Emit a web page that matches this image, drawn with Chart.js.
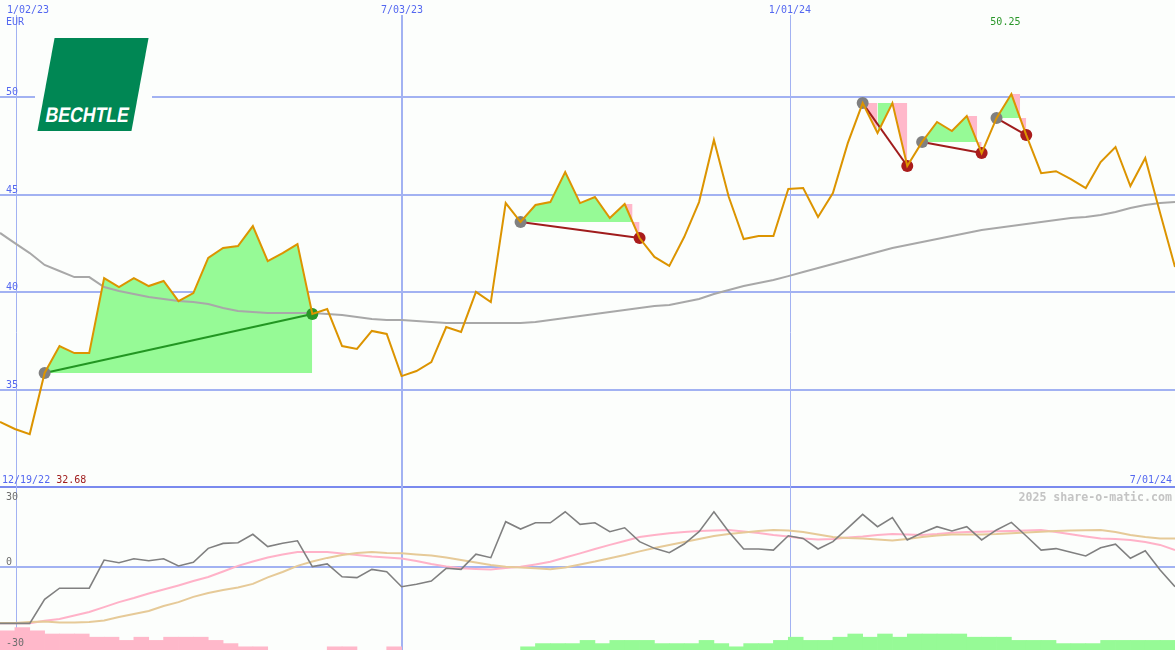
<!DOCTYPE html>
<html>
<head>
<meta charset="utf-8">
<script src="https://cdn.jsdelivr.net/npm/chart.js@4.4.1/dist/chart.umd.min.js"></script>
<style>
html,body{margin:0;padding:0;background:#fcfefc;}
#wrap{position:relative;width:1175px;height:650px;overflow:hidden;background:#fcfefc;}
#c{position:absolute;left:0;top:0;}
#logoBox{position:absolute;left:35px;top:32px;width:117px;height:104px;background:#fcfefc;}
#logo{position:absolute;left:11.25px;top:6px;width:94px;height:93px;background:#008754;transform:skewX(-10.4deg);}
#logo span{position:absolute;left:-10px;width:114px;top:66px;height:21px;line-height:21px;text-align:center;
  font-family:"Liberation Sans",Arial,sans-serif;font-weight:bold;font-size:21px;color:#ffffff;
  transform:scaleX(0.84);transform-origin:57px 10px;}
</style>
</head>
<body>
<div id="wrap">
<canvas id="c" width="1175" height="650"></canvas>
<div id="logoBox"><div id="logo"><span>BECHTLE</span></div></div>
</div>
<script>
// ---- data (weekly points) ----
const price = [33.36,33.00,32.74,35.87,37.25,36.89,36.89,40.73,40.27,40.73,
 40.32,40.58,39.55,39.96,41.76,42.27,42.37,43.39,41.60,42.01,
 42.47,38.89,39.14,37.25,37.10,38.02,37.87,35.71,35.97,36.43,
 38.22,37.97,40.02,39.50,44.57,43.60,44.47,44.62,46.16,44.57,
 44.88,43.80,44.52,42.78,41.81,41.35,42.83,44.62,47.80,44.88,
 42.73,42.88,42.88,45.29,45.34,43.86,45.08,47.64,49.69,48.16,
 49.69,46.47,47.70,48.72,48.26,49.03,47.13,48.92,50.15,48.05,
 46.10,46.20,45.80,45.34,46.67,47.44,45.44,46.88,44.06,41.30];
const movingAvg = [43.04,42.52,42.01,41.40,41.09,40.78,40.78,40.27,40.07,39.91,
 39.76,39.66,39.55,39.50,39.40,39.20,39.04,38.99,38.94,38.94,
 38.94,38.94,38.89,38.84,38.74,38.63,38.58,38.58,38.53,38.48,
 38.43,38.43,38.43,38.43,38.43,38.43,38.48,38.58,38.68,38.79,
 38.89,38.99,39.09,39.20,39.30,39.35,39.50,39.66,39.91,40.12,
 40.32,40.48,40.63,40.83,41.04,41.24,41.45,41.65,41.86,42.06,
 42.27,42.42,42.58,42.73,42.88,43.04,43.19,43.29,43.39,43.50,
 43.60,43.70,43.80,43.86,43.96,44.11,44.32,44.47,44.57,44.62];
const oscGray = [-26.0,-26.0,-26.0,-14.9,-9.8,-9.8,-9.8,3.2,2.0,3.8,
 2.9,3.8,0.5,2.2,8.6,10.9,11.2,15.1,9.4,11.0,
 12.1,0.2,1.4,-4.5,-4.9,-1.1,-2.2,-9.1,-8.0,-6.5,
 -0.6,-1.1,5.9,4.3,20.9,17.5,20.4,20.4,25.5,19.7,
 20.4,16.3,18.1,11.7,8.6,6.6,10.6,16.3,25.5,16.3,
 8.3,8.3,7.8,14.4,13.2,8.3,11.7,17.9,24.3,18.6,
 22.8,12.5,15.8,18.6,16.6,18.6,12.5,17.1,20.6,14.3,
 7.8,8.5,6.8,5.1,8.9,10.5,4.0,7.5,-1.4,-9.1];
const oscPink = [-26.0,-26.0,-26.0,-24.8,-24.0,-22.4,-20.8,-18.5,-16.2,-14.3,
 -12.2,-10.4,-8.5,-6.5,-4.6,-2.1,0.5,2.5,4.4,5.8,
 6.9,6.9,6.9,6.2,5.5,4.8,4.4,3.9,2.8,1.4,
 0.2,-0.6,-0.9,-1.1,-0.5,0.1,1.2,2.4,4.4,6.3,
 8.3,10.2,12.0,13.8,14.8,15.6,16.2,16.6,16.8,17.1,
 16.4,15.7,14.8,14.1,13.2,12.7,12.9,13.6,14.1,14.8,
 15.2,15.0,14.8,15.2,15.8,16.2,16.3,16.5,16.6,16.8,
 17.1,16.2,15.1,14.1,13.2,12.9,12.5,11.5,10.2,7.8];
const oscTan = [-25.8,-25.8,-25.4,-25.1,-25.6,-25.6,-25.4,-24.7,-23.1,-21.7,
 -20.3,-18.0,-16.2,-13.8,-12.0,-10.6,-9.5,-7.8,-4.8,-2.3,
 0.5,2.5,4.2,5.5,6.5,6.9,6.5,6.3,5.8,5.3,
 4.4,3.2,2.1,0.9,0.1,-0.2,-0.6,-1.0,-0.2,1.2,
 2.5,4.0,5.5,7.2,8.8,10.2,11.5,12.9,14.3,15.2,
 15.9,16.6,17.1,16.8,16.2,15.0,13.8,13.4,13.2,12.7,
 12.2,12.9,13.8,14.5,15.0,15.0,15.0,15.2,15.6,15.9,
 16.3,16.6,16.8,17.0,17.1,16.2,14.8,13.8,13.2,13.2];
const histPink = [6,7,6,5,5,5,4,4,3,4, 3,4,4,4,3,2,1,1,0,0, 0,0,1,1,0,0,1,0,0,0,
 0,0,0,0,0,0,0,0,0,0, 0,0,0,0,0,0,0,0,0,0, 0,0,0,0,0,0,0,0,0,0,
 0,0,0,0,0,0,0,0,0,0, 0,0,0,0,0,0,0,0,0];
const histGreen = [0,0,0,0,0,0,0,0,0,0, 0,0,0,0,0,0,0,0,0,0, 0,0,0,0,0,0,0,0,0,0,
 0,0,0,0,0,1,2,2,2,3, 2,3,3,3,2,2,2,3,2,1, 2,2,3,4,3,3,4,5,4,5,
 4,5,5,5,5,4,4,4,3,3, 3,2,2,2,3,3,3,3,3];
const trendStart = [3, 35, 58, 62, 67];
const trendEnd = [21, 43, 61, 66, 69];
const xTickPos = [1.08, 27.03, 53.11];
const xTickLabels = ['1/02/23', '7/03/23', '1/01/24'];
const xTickWidths = [1, 2, 1];
const yTicks = [35, 40, 45, 50];
const oscTicks = [30, 0, -30];
const currency = 'EUR';
const firstDate = '12/19/22';
const lastDate = '7/01/24';
const lowLabel = '32.68';
const highLabel = '50.25';
const credit = '2025 share-o-matic.com';

// ---- styles ----
const GREEN = 'rgb(150,250,150)', PINK = 'rgb(255,184,202)', NONE = 'rgba(0,0,0,0)';
const GRID = 'rgb(162,178,242)', SEP = 'rgb(122,138,238)', BLUE_TXT = 'rgb(84,104,240)';

const pts = arr => arr.map((v, i) => ({x: i, y: v}));
const datasets = [];
datasets.push({label: 'price', data: pts(price), yAxisID: 'y', borderColor: '#dc9400', borderWidth: 2, pointRadius: 0, fill: false, order: 1});
datasets.push({label: 'ma', data: pts(movingAvg), yAxisID: 'y', borderColor: 'rgb(168,168,168)', borderWidth: 2, pointRadius: 0, fill: false, order: 6});

function fillDs(data, level, above, below) {
  datasets.push({data, yAxisID: 'y', borderWidth: 0, borderColor: NONE, pointRadius: 0,
    fill: {target: {value: level}, above, below}, order: 10});
}

trendStart.forEach((s, k) => {
  const e = trendEnd[k], entry = price[s], exit = price[e], win = exit >= entry;
  const lastNormal = win ? e : e - 1;
  const aboveData = [];
  for (let i = s; i <= lastNormal; i++) aboveData.push({x: i, y: price[i]});
  let xc = null;
  if (!win && price[e - 1] > entry) {
    xc = (e - 1) + (price[e - 1] - entry) / (price[e - 1] - price[e]);
    aboveData.push({x: xc, y: entry});
  }
  fillDs(aboveData, entry, GREEN, NONE);
  for (let i = s; i < lastNormal; i++) {
    if (price[i] < entry || price[i + 1] < entry) {
      const rising = price[i + 1] > price[i];
      fillDs([{x: i, y: price[i]}, {x: i + 1, y: price[i + 1]}], entry, NONE, rising ? GREEN : PINK);
    }
  }
  if (!win) {
    if (xc !== null) {
      fillDs([{x: e - 1, y: price[e - 1]}, {x: xc, y: entry}], price[e - 1], PINK, PINK);
      fillDs([{x: xc, y: entry}, {x: e, y: exit}], entry, PINK, PINK);
    } else {
      fillDs([{x: e - 1, y: price[e - 1]}, {x: e, y: exit}], entry, PINK, PINK);
    }
  }
  datasets.push({data: [{x: s, y: entry}, {x: e, y: exit}], yAxisID: 'y',
    borderColor: win ? 'rgb(34,150,34)' : 'rgb(160,28,28)', borderWidth: 2, pointRadius: 0, fill: false, order: 5});
  datasets.push({data: [{x: s, y: entry}], yAxisID: 'y', showLine: false, pointRadius: 6,
    pointBackgroundColor: 'rgb(128,128,128)', pointBorderWidth: 0, pointBorderColor: NONE, order: 4});
  datasets.push({data: [{x: e, y: exit}], yAxisID: 'y', showLine: false, pointRadius: 6,
    pointBackgroundColor: win ? 'rgb(40,150,40)' : 'rgb(170,28,28)', pointBorderWidth: 0, pointBorderColor: NONE, order: 4});
});

datasets.push({data: pts(oscTan), yAxisID: 'y2', borderColor: 'rgb(230,202,152)', borderWidth: 2, pointRadius: 0, fill: false, order: 3});
datasets.push({data: pts(oscPink), yAxisID: 'y2', borderColor: 'rgb(255,178,200)', borderWidth: 2, pointRadius: 0, fill: false, order: 3});
datasets.push({data: pts(oscGray), yAxisID: 'y2', borderColor: 'rgb(128,128,128)', borderWidth: 1.6, pointRadius: 0, fill: false, order: 2});
datasets.push({type: 'bar', data: histPink.map((v, i) => ({x: i + 0.5, y: v || null})), yAxisID: 'yh',
  backgroundColor: PINK, borderWidth: 0, grouped: false, barPercentage: 1, categoryPercentage: 1, order: 20});
datasets.push({type: 'bar', data: histGreen.map((v, i) => ({x: i + 0.5, y: v || null})), yAxisID: 'yh',
  backgroundColor: GREEN, borderWidth: 0, grouped: false, barPercentage: 1, categoryPercentage: 1, order: 20});

// vertical date grid lines, placed through the x scale
const dateGridPlugin = {
  id: 'dateGrid',
  beforeDatasetsDraw(chart) {
    const {ctx, chartArea, scales: {x}} = chart;
    ctx.save();
    ctx.strokeStyle = GRID;
    xTickPos.forEach((v, i) => {
      const w = xTickWidths[i];
      const px = x.getPixelForValue(v);
      const ax = w % 2 ? Math.round(px) + 0.5 : Math.round(px);
      ctx.lineWidth = w;
      ctx.beginPath();
      ctx.moveTo(ax, chartArea.top);
      ctx.lineTo(ax, chartArea.bottom);
      ctx.stroke();
    });
    ctx.restore();
  }
};

const MONO = '"DejaVu Sans Mono", monospace';
const labelPlugin = {
  id: 'labels',
  afterDraw(chart) {
    const {ctx, chartArea, scales: {x, y, y2}} = chart;
    ctx.save();
    ctx.textBaseline = 'alphabetic';
    ctx.font = '10px ' + MONO;
    ctx.fillStyle = BLUE_TXT;
    ctx.textAlign = 'left';
    xTickLabels.forEach((t, i) => {
      const px = x.getPixelForValue(xTickPos[i]);
      const w = ctx.measureText(t).width;
      ctx.fillText(t, Math.max(7, px - w / 2), 13);
    });
    ctx.fillText(currency, 6, 25);
    yTicks.forEach(v => ctx.fillText(String(v), 6, y.getPixelForValue(v) - 2));
    const sepY = y2.top - 4;
    ctx.fillText(firstDate, 2, sepY);
    const off = ctx.measureText(firstDate + ' ').width;
    ctx.fillStyle = 'rgb(160,30,30)';
    ctx.fillText(lowLabel, 2 + off, sepY);
    ctx.fillStyle = BLUE_TXT;
    ctx.textAlign = 'right';
    ctx.fillText(lastDate, 1172, sepY);
    let hi = 0;
    price.forEach((v, i) => { if (v > price[hi]) hi = i; });
    ctx.textAlign = 'center';
    ctx.fillStyle = 'rgb(40,150,40)';
    ctx.fillText(highLabel, x.getPixelForValue(hi) - 6, 25);
    ctx.textAlign = 'left';
    ctx.fillStyle = 'rgb(110,110,110)';
    oscTicks.forEach(v => {
      const py = v < y2.min ? chartArea.bottom - 4 : y2.getPixelForValue(v) - 2;
      ctx.fillText(String(v), 6, py);
    });
    ctx.font = 'bold 11.6px ' + MONO;
    ctx.fillStyle = 'rgb(196,196,196)';
    ctx.textAlign = 'right';
    ctx.fillText(credit, 1172, y2.top + 14);
    ctx.restore();
  }
};

const hiddenTicks = {display: false};
new Chart(document.getElementById('c'), {
  type: 'line',
  data: {datasets},
  options: {
    responsive: false,
    devicePixelRatio: 1,
    animation: false,
    events: [],
    layout: {autoPadding: false, padding: {top: 15, left: 0, right: 0, bottom: 0}},
    plugins: {legend: {display: false}, tooltip: {enabled: false}},
    scales: {
      x: {type: 'linear', min: 0, max: price.length - 1, offset: false,
        ticks: hiddenTicks, border: {display: false},
        grid: {display: false, drawTicks: false}},
      y: {type: 'linear', min: 30.03, max: 54.2, position: 'left', stack: 'panels', stackWeight: 472, weight: 3,
        afterBuildTicks: sc => { sc.ticks = yTicks.map(v => ({value: v})); },
        ticks: hiddenTicks, border: {display: false},
        grid: {color: GRID, lineWidth: 2, drawTicks: false}},
      y2: {type: 'linear', min: -27.23, max: 36.92, position: 'left', stack: 'panels', stackWeight: 139, weight: 2,
        afterBuildTicks: sc => { sc.ticks = [{value: 0}, {value: sc.max}]; },
        ticks: hiddenTicks, border: {display: false},
        grid: {color: c => (c.tick && c.tick.value === 0) ? GRID : SEP, lineWidth: 2, drawTicks: false}},
      yh: {type: 'linear', min: 0, max: 7.5, position: 'left', stack: 'panels', stackWeight: 24, weight: 1,
        ticks: hiddenTicks, border: {display: false}, grid: {display: false, drawTicks: false}}
    }
  },
  plugins: [dateGridPlugin, labelPlugin]
});
</script>
</body>
</html>
